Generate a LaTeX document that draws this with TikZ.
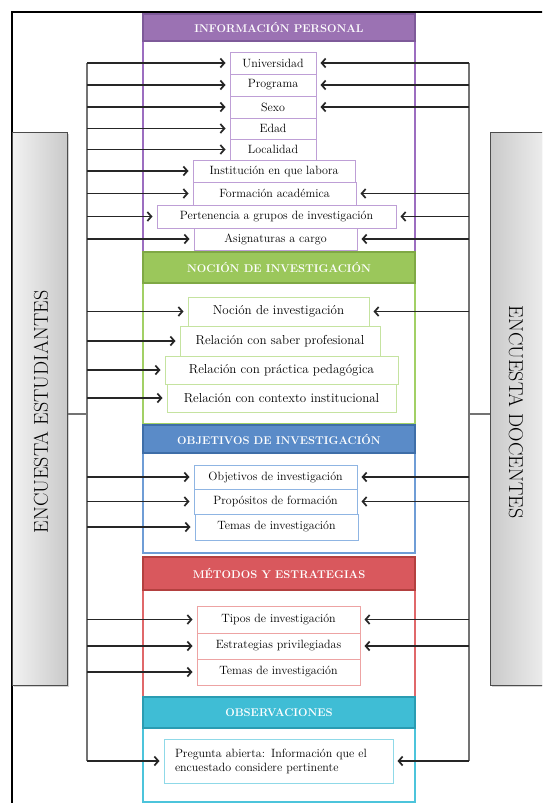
\documentclass[tikz,border=0pt]{standalone}
\usepackage{fontspec}
\usetikzlibrary{arrows.meta,shadows,calc}
\definecolor{purH}{HTML}{9B72B3}
\definecolor{purD}{HTML}{7E5A99}
\definecolor{purB}{HTML}{9C6DC0}
\definecolor{purI}{HTML}{BE9FD6}
\definecolor{grnH}{HTML}{9BC75B}
\definecolor{grnD}{HTML}{7FA845}
\definecolor{grnB}{HTML}{A2D065}
\definecolor{grnI}{HTML}{C5E3A0}
\definecolor{bluH}{HTML}{5A8BC8}
\definecolor{bluD}{HTML}{3E6EA8}
\definecolor{bluB}{HTML}{6F9DD6}
\definecolor{bluI}{HTML}{8FB5E3}
\definecolor{redH}{HTML}{D9585D}
\definecolor{redD}{HTML}{B3403F}
\definecolor{redB}{HTML}{E0686A}
\definecolor{redI}{HTML}{EDA3A3}
\definecolor{tealH}{HTML}{3FBDD5}
\definecolor{tealD}{HTML}{2A9CB2}
\definecolor{tealB}{HTML}{4CC4DB}
\definecolor{tealI}{HTML}{8FD9E8}
\begin{document}
\begin{tikzpicture}[x=1pt,y=-1pt,
  hdr/.style={draw, line width=1.5pt, text=white, font=\fontsize{11.2}{13}\selectfont\bfseries, minimum width=272pt, inner sep=0pt},
  bodyb/.style={draw, line width=1.8pt, fill=white, minimum width=272pt, inner sep=0pt},
  itm/.style={draw, line width=1pt, fill=white, inner sep=0pt, font=\fontsize{12}{14}\selectfont, text=black, drop shadow={opacity=0.18, shadow xshift=1.2pt, shadow yshift=-1.2pt}},
  itmb/.style={itm, font=\fontsize{13}{15}\selectfont},
  arr/.style={draw=black!85, line width=1.1pt, -{Straight Barb[length=4pt,width=9pt,line width=1.7pt]}, shorten >=4pt},
  vln/.style={draw=black!55, line width=1.8pt},
  bar/.style={draw=black!70, line width=1pt, inner sep=0pt, minimum height=553pt, drop shadow={opacity=0.35, shadow xshift=2pt, shadow yshift=-2pt}},
  side/.style={font=\fontsize{20}{23}\selectfont, text=black}
]
\useasboundingbox (0,0) rectangle (542,803);
\clip (0,0) rectangle (542,803);

% outer frame
\draw[line width=1.8pt] (12,815) -- (12,12) -- (560,12);

% side bars
\node[bar, minimum width=55pt, left color=gray!10, right color=gray!42] (lbar) at (39.5,408.5) {};
\node[bar, minimum width=62pt, left color=gray!42, right color=gray!10] (rbar) at (521,408.5) {};
\node[side, rotate=90] (ltxt) at (41,412) {ENCUESTA ESTUDIANTES};
\node[side, rotate=-90] (rtxt) at (516,412) {ENCUESTA DOCENTES};

% section bodies
\node[bodyb, draw=purB, minimum height=211pt] (b1) at (279,146.5) {};
\node[bodyb, draw=grnB, minimum height=141pt] (b2) at (279,353.5) {};
\node[bodyb, draw=bluB, minimum height=100pt] (b3) at (279,503) {};
\node[bodyb, draw=redB, minimum height=107pt] (b4) at (279,643.5) {};
\node[bodyb, draw=tealB, minimum height=74pt] (b5) at (279,765) {};

% headers
\node[hdr, fill=purH, draw=purD, minimum height=27pt] (h1) at (279,27.5) {INFORMACIÓN PERSONAL};
\node[hdr, fill=grnH, draw=grnD, minimum height=31pt] (h2) at (279,267.5) {NOCIÓN DE INVESTIGACIÓN};
\node[hdr, fill=bluH, draw=bluD, minimum height=28pt] (h3) at (279,439) {OBJETIVOS DE INVESTIGACIÓN};
\node[hdr, fill=redH, draw=redD, minimum height=33pt] (h4) at (279,573.5) {MÉTODOS Y ESTRATEGIAS};
\node[hdr, fill=tealH, draw=tealD, minimum height=31pt] (h5) at (279,712.5) {OBSERVACIONES};

% items: informacion personal
\node[itm, draw=purI, minimum width=86pt, minimum height=22pt] (univ) at (273,63) {Universidad};
\node[itm, draw=purI, minimum width=86pt, minimum height=22pt] (prog) at (273,85) {Programa};
\node[itm, draw=purI, minimum width=86pt, minimum height=22pt] (sexo) at (273,107) {Sexo};
\node[itm, draw=purI, minimum width=86pt, minimum height=21pt] (edad) at (273,128.5) {Edad};
\node[itm, draw=purI, minimum width=86pt, minimum height=21pt] (local) at (273,149.5) {Localidad};
\node[itm, draw=purI, minimum width=162pt, minimum height=22pt] (inst) at (274,171) {Institución en que labora};
\node[itm, draw=purI, minimum width=163pt, minimum height=23pt] (form) at (274.5,193.5) {Formación académica};
\node[itm, draw=purI, minimum width=239pt, minimum height=23pt] (pert) at (276.5,216.5) {Pertenencia a grupos de investigación};
\node[itm, draw=purI, minimum width=163pt, minimum height=22pt] (asig) at (275.5,239) {Asignaturas a cargo};

% items: nocion
\node[itmb, draw=grnI, minimum width=181pt, minimum height=29pt] (noc) at (278.5,311.5) {Noción de investigación};
\node[itmb, draw=grnI, minimum width=200pt, minimum height=30pt] (rsab) at (280,341) {Relación con saber profesional};
\node[itmb, draw=grnI, minimum width=233pt, minimum height=28pt] (rprac) at (281.5,370) {Relación con práctica pedagógica};
\node[itmb, draw=grnI, minimum width=229pt, minimum height=28pt] (rcont) at (281.5,398) {Relación con contexto institucional};

% items: objetivos
\node[itm, draw=bluI, minimum width=163pt, minimum height=24pt] (obj) at (275.5,477) {Objetivos de investigación};
\node[itm, draw=bluI, minimum width=163pt, minimum height=25pt] (prop) at (275.5,501.5) {Propósitos de formación};
\node[itm, draw=bluI, minimum width=163pt, minimum height=26pt] (tem) at (276.5,527) {Temas de investigación};

% items: metodos
\node[itm, draw=redI, minimum width=163pt, minimum height=27pt] (tipos) at (278.5,619.5) {Tipos de investigación};
\node[itm, draw=redI, minimum width=163pt, minimum height=26pt] (estr) at (278.5,646) {Estrategias privilegiadas};
\node[itm, draw=redI, minimum width=163pt, minimum height=26pt] (temb) at (278.5,672) {Temas de investigación};

% items: observaciones
\node[itm, draw=tealI, minimum height=44pt, text width=207pt, inner xsep=11pt, align=left, font=\fontsize{12}{14}\selectfont] (preg) at (278.5,761) {Pregunta abierta: Información que el\\encuestado considere pertinente};

% vertical collector lines
\coordinate (lv) at (87,0);
\coordinate (rv) at (469,0);
\coordinate (lc) at (87,414);
\coordinate (rc) at (469,414);
\draw[vln] (univ.west -| lv) -- (preg.west -| lv);
\draw[vln] (univ.east -| rv) -- (preg.east -| rv);
\draw[vln] (lbar.east |- lc) -- (lc);
\draw[vln] (rbar.west |- rc) -- (rc);

% left arrows
\foreach \n in {univ,prog,sexo,edad,local,inst,form,pert,asig,noc,rsab,rprac,rcont,obj,prop,tem,tipos,estr,temb,preg}
  \draw[arr] (\n.west -| lv) -- (\n.west);
% right arrows
\foreach \n in {univ,prog,sexo,form,pert,asig,noc,obj,prop,tipos,estr,preg}
  \draw[arr] (\n.east -| rv) -- (\n.east);
\end{tikzpicture}
\end{document}
